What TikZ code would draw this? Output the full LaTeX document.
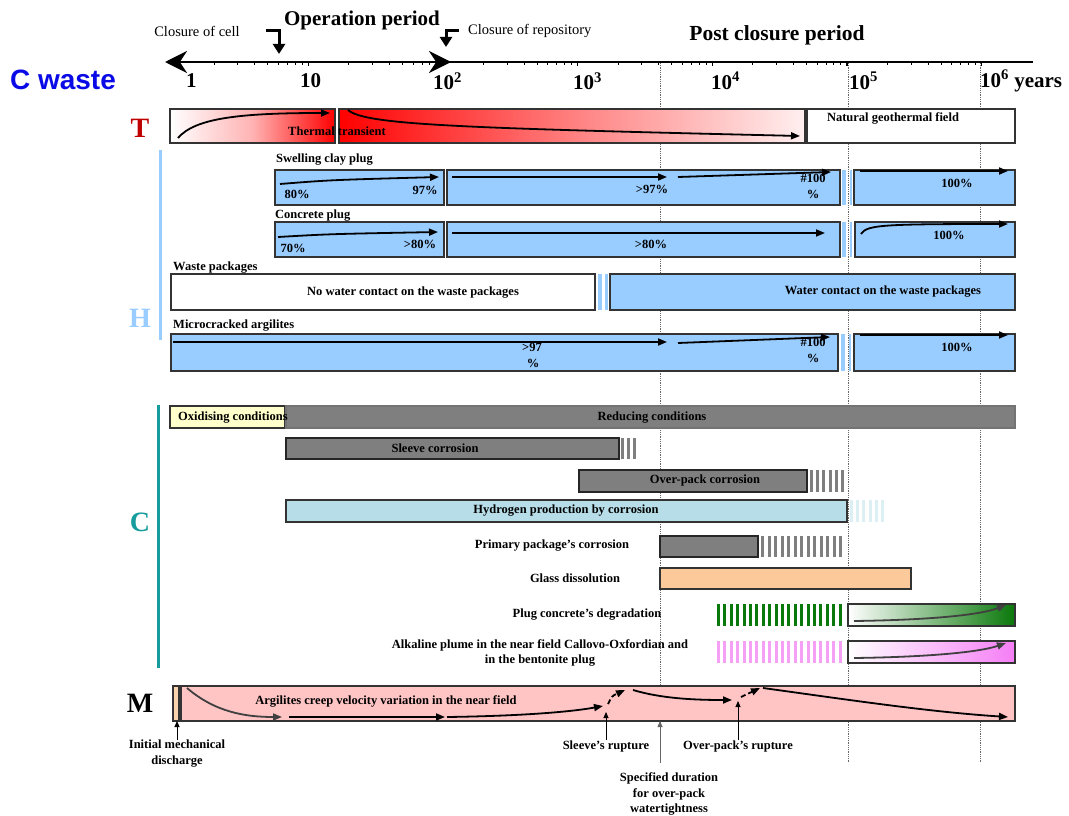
\documentclass[tikz,border=0pt]{standalone}
\usepackage{fontspec}
\setmainfont{Liberation Serif}
\newfontfamily\headsans{Liberation Sans}
\usetikzlibrary{arrows.meta}

\definecolor{hblue}{HTML}{99CCFF}
\definecolor{tred}{HTML}{C00000}
\definecolor{cteal}{HTML}{169C9C}
\definecolor{cwblue}{HTML}{0A0AE6}
\definecolor{redgray}{HTML}{7F7F7F}
\definecolor{oxyel}{HTML}{FFFFCC}
\definecolor{hcyan}{HTML}{B7DEE8}
\definecolor{hcyanlt}{HTML}{DCEFF3}
\definecolor{glass}{HTML}{FCC99B}
\definecolor{pgreen}{HTML}{0A780A}
\definecolor{ppink}{HTML}{F5A0F5}
\definecolor{pmag}{HTML}{F57EF5}
\definecolor{mpink}{HTML}{FFC4C4}
\definecolor{mtan}{HTML}{F8D3AE}
\definecolor{arrgray}{HTML}{404040}

\newcommand\lblfont{\fontsize{12.5}{15.5}\selectfont\bfseries}
% a bar of the timeline: name, style, x-left, y-top, x-right, y-bottom
\newcommand\tlbar[6]{%
  \pgfmathsetmacro\tlbw{#5-#3}%
  \pgfmathsetmacro\tlbh{#6-#4}%
  \node[#2, minimum width=\tlbw pt, minimum height=\tlbh pt, anchor=north west] (#1) at (#3,#4) {};%
}
% hatched continuation of a bar: colour, x-left, x-right, y-top, y-bottom, pitch
\newcommand\tlstripes[6]{%
  \pgfmathtruncatemacro\tlsn{(#3-#2-3)/#6}%
  \foreach \tlsi in {0,...,\tlsn}{\fill[#1] ({#2+\tlsi*#6},#4) rectangle ++(3,{#5-#4});}%
}

\begin{document}
\begin{tikzpicture}[x=1pt,y=-1pt,
  bx/.style={draw=black!80, line width=1.1pt, inner sep=0pt, outer sep=0pt},
  gbx/.style={bx, fill=redgray, draw=black!55},
  lbl/.style={font=\lblfont, inner sep=0pt},
  lblc/.style={lbl, align=center},
  arr/.style={line width=1.8pt, -{Triangle[length=9pt,width=7pt]}},
  garr/.style={line width=1.8pt, arrgray, -{Triangle[length=9pt,width=7pt]}},
  tarr/.style={line width=0.9pt, -{Triangle[length=6pt,width=5pt]}},
  bigletter/.style={font=\fontsize{28}{30}\selectfont\bfseries, inner sep=0pt},
  axlbl/.style={font=\fontsize{21}{24}\selectfont\bfseries, inner sep=0pt, anchor=west},
  guide/.style={densely dotted, black!60, line width=0.8pt}
]
\useasboundingbox (0,0) rectangle (1069,816);

% ---------- time axis ----------
\node[font=\fontsize{14.5}{16}\selectfont, inner sep=0pt] (closecell) at (197,31) {Closure of cell};
\node[font=\fontsize{21}{24}\selectfont\bfseries, inner sep=0pt] (operation) at (362,20) {Operation period};
\node[font=\fontsize{14.5}{16}\selectfont, inner sep=0pt, anchor=west] (closerepo) at (468,31) {Closure of repository};
\node[font=\fontsize{21.5}{24}\selectfont\bfseries, inner sep=0pt] (postclosure) at (777,35) {Post closure period};

\draw[line width=3pt, -{Triangle[length=10pt,width=12pt]}] (266,31) -- (279,31) -- (279,54);
\draw[line width=3pt, -{Triangle[length=10pt,width=12pt]}] (459,31) -- (446,31) -- (446,47);

% guide lines at 4000, 10^5 and 10^6 years
\draw[guide] (660,63) -- (660,763);
\draw[guide] (848,63) -- (848,763);
\draw[guide] (980,63) -- (980,763);

\draw[line width=1.6pt] (446,62) -- (1033,62);
\foreach \dec in {0,...,5}{
  \foreach \m in {2,...,9}{
    \pgfmathsetmacro\tkx{173.5+134.7*(\dec+log10(\m))}
    \draw[line width=1pt] (\tkx,62) -- (\tkx,65.5);
  }
}
\foreach \dec in {1,...,6}{
  \pgfmathsetmacro\tkx{173.5+134.7*\dec}
  \draw[line width=1.2pt] (\tkx,62) -- (\tkx,66.5);
}
\draw[line width=2.8pt, {Stealth[length=22pt,width=22pt]}-{Stealth[length=22pt,width=22pt]}] (165,62) -- (451,62);

\node[axlbl] (ax0) at (186,81) {1};
\node[axlbl] (ax1) at (300,81) {10};
\node[axlbl] (ax2) at (433,81) {10\textsuperscript{2}};
\node[axlbl] (ax3) at (573,81) {10\textsuperscript{3}};
\node[axlbl] (ax4) at (711,81) {10\textsuperscript{4}};
\node[axlbl] (ax5) at (849,81) {10\textsuperscript{5}};
\node[axlbl] (ax6) at (980,81) {10\textsuperscript{6} years};

\node[font=\headsans\fontsize{28}{30}\selectfont\bfseries, text=cwblue, inner sep=0pt] (cwaste) at (63,80) {C waste};

% ---------- side letters ----------
\node[bigletter, text=tred] (letT) at (140,128) {T};
\draw[hblue, line width=3pt] (160,150) -- (160,340);
\node[bigletter, text=hblue] (letH) at (140,318) {H};
\draw[cteal, line width=3pt] (158,405) -- (158,668);
\node[bigletter, text=cteal] (letC) at (140,522) {C};
\node[bigletter] (letM) at (140,703) {M};

% ---------- T : thermal ----------
\tlbar{tA}{bx, left color=white, right color=red, middle color=red!30}{170}{109}{335}{143}
\tlbar{tB}{bx, left color=red, right color=red!6, middle color=red!50}{339}{109}{805}{143}
\tlbar{tC}{bx, fill=white}{807}{109}{1015}{143}
\draw[arr] (178,138) .. controls (195,118) and (240,113) .. (330,113);
\draw[arr] (348,110) .. controls (365,125) and (460,128) .. (800,136);
\node[lbl] (thermal) at (337,131) {Thermal transient};
\node[lbl] (geo) at (893,118) {Natural geothermal field};

% ---------- H : hydraulic ----------
\node[lbl, anchor=west] (swell) at (276,160) {Swelling clay plug};
\tlbar{h1a}{bx, fill=hblue}{275}{170}{444}{205}
\tlbar{h1b}{bx, fill=hblue}{447}{170}{840}{205}
\fill[hblue] (842,170) rectangle (846,205);
\fill[hblue] (849.5,170) rectangle (852,205);
\tlbar{h1c}{bx, fill=hblue}{854}{170}{1015}{205}
\node[lbl] at (297,194) {80\%};
\node[lbl] at (425,190) {97\%};
\node[lbl] at (652,189) {>97\%};
\node[lbl] at (813,178) {\#100};
\node[lbl] at (813,194) {\%};
\node[lbl] at (957,183) {100\%};
\draw[arr] (280,184) .. controls (330,180) .. (439,177);
\draw[arr] (452,177) -- (667,177);
\draw[arr] (678,177) -- (831,172);
\draw[arr] (860,171) -- (1008,171);

\node[lbl, anchor=west] (concplug) at (275,216) {Concrete plug};
\tlbar{h2a}{bx, fill=hblue}{275}{222}{444}{257}
\tlbar{h2b}{bx, fill=hblue}{447}{222}{840}{257}
\fill[hblue] (842,222) rectangle (846,257);
\fill[hblue] (849.5,222) rectangle (852,257);
\tlbar{h2c}{bx, fill=hblue}{855}{222}{1015}{257}
\node[lbl] at (293,248) {70\%};
\node[lbl] at (420,244) {>80\%};
\node[lbl] at (651,244) {>80\%};
\node[lbl] at (949,235) {100\%};
\draw[arr] (278,237) .. controls (330,234) .. (438,232);
\draw[arr] (452,233) -- (825,233);
\draw[arr] (861,234) .. controls (867,225) and (880,224) .. (1008,224);

\node[lbl, anchor=west] (wastepk) at (173,268) {Waste packages};
\tlbar{h3a}{bx, fill=white}{171}{274}{595}{310}
\fill[hblue] (598,274) rectangle (602,310);
\fill[hblue] (605,274) rectangle (608,310);
\tlbar{h3b}{bx, fill=hblue}{610}{274}{1015}{310}
\node[lbl] at (413,293) {No water contact on the waste packages};
\node[lbl] at (883,292) {Water contact on the waste packages};

\node[lbl, anchor=west] (microarg) at (173,326) {Microcracked argilites};
\tlbar{h4a}{bx, fill=hblue}{171}{334}{838}{371}
\fill[hblue] (841,334) rectangle (845,371);
\fill[hblue] (848.5,334) rectangle (851,371);
\tlbar{h4c}{bx, fill=hblue}{854}{334}{1015}{371}
\node[lbl] at (532,347) {>97};
\node[lbl] at (533,363) {\%};
\node[lbl] at (813,342) {\#100};
\node[lbl] at (813,358) {\%};
\node[lbl] at (957,347) {100\%};
\draw[arr] (173,342) -- (667,342);
\draw[arr] (678,343) -- (830,337);
\draw[arr] (860,335) -- (1008,335);

% ---------- C : chemical ----------
\tlbar{cOx}{bx, fill=oxyel}{170}{406}{285}{428}
\tlbar{cRed}{gbx}{286}{406}{1015}{428}
\node[lbl, anchor=west] at (178,418) {Oxidising conditions};
\node[lbl] at (652,418) {Reducing conditions};

\tlbar{cSleeve}{gbx, draw=black!85}{286}{438}{619}{459}
\tlstripes{redgray}{621}{639}{438}{459}{6}
\node[lbl] at (435,448) {Sleeve corrosion};

\tlbar{cOver}{gbx, draw=black!85}{579}{470}{807}{492}
\tlstripes{redgray}{810}{846}{470}{492}{6.2}
\node[lbl] at (705,480) {Over-pack corrosion};

\tlbar{cHyd}{bx, fill=hcyan}{286}{500}{847}{522}
\tlstripes{hcyanlt}{850}{886}{500}{522}{6.2}
\node[lbl] at (566,511) {Hydrogen production by corrosion};

\node[lbl] (primlbl) at (552,546) {Primary package’s corrosion};
\tlbar{cPrim}{gbx, draw=black!85}{660}{536}{758}{557}
\tlstripes{redgray}{761}{846}{536}{557}{6.5}

\node[lbl] (glasslbl) at (575,578) {Glass dissolution};
\tlbar{cGlass}{bx, fill=glass}{660}{568}{911}{589}

\node[lbl] (pluglbl) at (587,615) {Plug concrete’s degradation};
\tlstripes{pgreen}{717}{846}{604}{626}{6.4}
\tlbar{cPlug}{bx, left color=white, right color=pgreen}{848}{604}{1015}{626}
\draw[garr] (854,621) .. controls (930,620) and (980,615) .. (1006,605);

\node[lblc] (alklbl) at (540,653) {Alkaline plume in the near field Callovo-Oxfordian and\\in the bentonite plug};
\tlstripes{ppink}{717}{846}{641}{663}{6.4}
\tlbar{cAlk}{bx, left color=white, right color=pmag}{848}{641}{1015}{663}
\draw[garr] (854,658) .. controls (930,657) and (980,652) .. (1006,643);

% ---------- M : mechanical ----------
\tlbar{mA}{bx, fill=mtan}{173}{686}{179}{721}
\tlbar{mB}{bx, fill=mpink}{181}{686}{1015}{721}
\node[lbl] at (386,701) {Argilites creep velocity variation in the near field};
\draw[garr] (187,688) .. controls (215,712) and (245,717) .. (282,717);
\draw[arr] (289,717) -- (445,717);
\draw[arr] (447,717) .. controls (520,716) and (570,712) .. (603,706);
\draw[arr, dash pattern=on 5pt off 3pt] (608,704) .. controls (612,696) .. (625,690);
\draw[arr] (633,690) .. controls (660,698) and (690,700) .. (732,700);
\draw[arr, dash pattern=on 5pt off 3pt] (741,697) -- (760,688);
\draw[arr] (763,688) .. controls (850,700) and (930,712) .. (1008,717);

\node[lblc] (initlbl) at (177,753.5) {Initial mechanical\\discharge};
\draw[tarr] (initlbl.north) -- (initlbl.north |- mA.south);

\node[lbl] (sleevelbl) at (606,746) {Sleeve’s rupture};
\coordinate (sleevept) at (606,712);
\draw[tarr] (sleevelbl.north) -- (sleevept);

\node[lbl] (overlbl) at (738,746) {Over-pack’s rupture};
\coordinate (overpt) at (738,701);
\draw[tarr] (overlbl.north) -- (overpt);

\node[lblc] (speclbl) at (669,794) {Specified duration\\for over-pack\\watertightness};
\coordinate (specbot) at (660,763);
\draw[guide, -{Triangle[length=6pt,width=5pt]}] (specbot) -- (specbot |- mB.south);
\end{tikzpicture}
\end{document}
